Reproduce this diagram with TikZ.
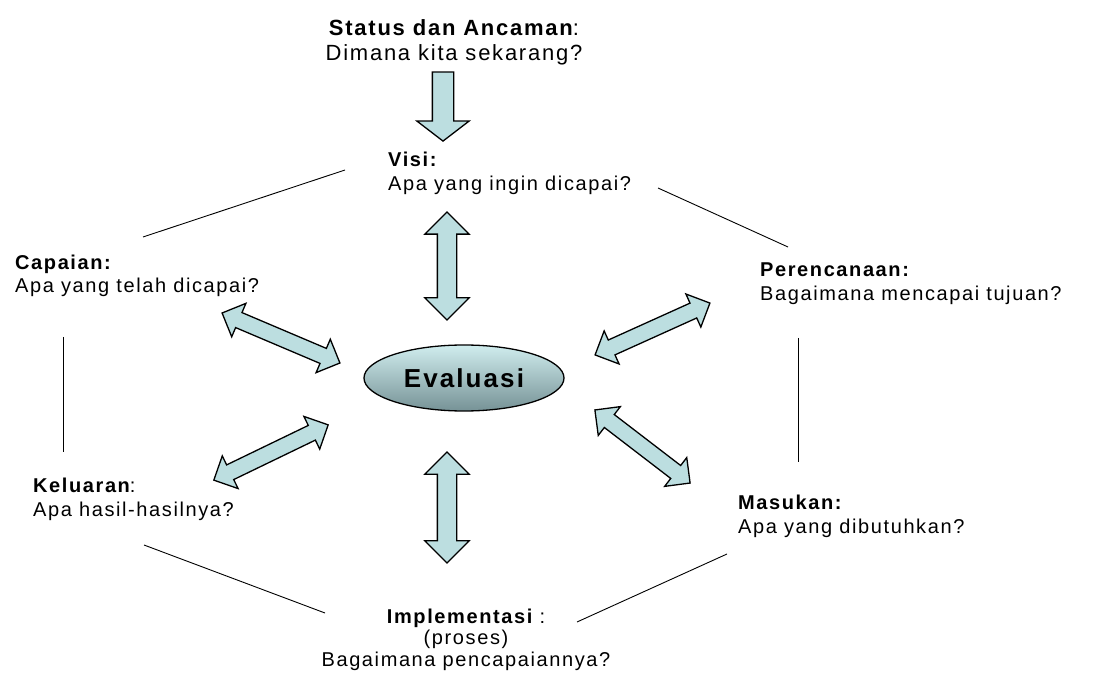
\documentclass[tikz,border=0pt]{standalone}
\usepackage{fontspec}
\setmainfont{Liberation Sans}
\newfontfamily\lblfont[LetterSpace=8]{Liberation Sans}
\usetikzlibrary{shapes.geometric,shapes.arrows}
\definecolor{arrowfill}{RGB}{188,222,224}
\definecolor{evaltop}{RGB}{208,237,238}
\definecolor{evalbot}{RGB}{118,146,150}
\tikzset{
  lbl/.style={anchor=north west,inner sep=0pt,align=left,font=\lblfont\fontsize{20}{24}\selectfont},
  edge/.style={line width=0.9pt},
  dblarrow/.style={double arrow,draw=black,fill=arrowfill,line width=1.3pt,inner sep=0pt,
    inner ysep=9pt,double arrow head extend=12.5pt,double arrow tip angle=90,minimum width=0pt},
  diagarrow/.style={dblarrow,inner ysep=7.5pt,double arrow head extend=10pt}
}
\begin{document}
\begin{tikzpicture}[x=1pt,y=-1pt]
  \useasboundingbox[fill=white] (0,0) rectangle (1093,684);
  % texts
  \node[lbl,anchor=north,align=center,font=\lblfont\fontsize{22}{25}\selectfont] (status) at (454,19)
    {{\bfseries Status dan Ancaman}:\\Dimana kita sekarang?};
  \node[lbl] (visi) at (388,151.5) {{\bfseries Visi:}\\Apa yang ingin dicapai?};
  \node[lbl,font=\lblfont\fontsize{20}{23}\selectfont] (capaian) at (15,254.5) {{\bfseries Capaian:}\\Apa yang telah dicapai?};
  \node[lbl] (rencana) at (760,262.5) {{\bfseries Perencanaan:}\\Bagaimana mencapai tujuan?};
  \node[lbl] (keluaran) at (33,477.5) {{\bfseries Keluaran}:\\Apa hasil-hasilnya?};
  \node[lbl] (masukan) at (738,494.5) {{\bfseries Masukan:}\\Apa yang dibutuhkan?};
  \node[lbl,anchor=north,align=center,font=\lblfont\fontsize{20}{21.5}\selectfont] (impl) at (466,608.5)
    {{\bfseries Implementasi} :\\(proses)\\Bagaimana pencapaiannya?};
  \node[ellipse,draw=black,line width=1.3pt,top color=evaltop,bottom color=evalbot,
    minimum width=200,minimum height=66,inner sep=0pt,
    font=\lblfont\bfseries\fontsize{26}{30}\selectfont] (eval) at (464,378) {Evaluasi};
  % fat arrows
  \node[single arrow,draw=black,fill=arrowfill,line width=1.3pt,inner sep=0pt,inner ysep=10pt,
    single arrow head extend=15.5pt,single arrow tip angle=105,minimum height=69,rotate=-90] (turun) at (443,102.5) {};
  \node[dblarrow,minimum height=108,rotate=90] (atas) at (447,266) {};
  \node[dblarrow,minimum height=111,rotate=90] (bawah) at (447,507.5) {};
  \node[diagarrow,minimum height=128,rotate=-23] (kiriatas) at (281,338) {};
  \node[diagarrow,minimum height=126,rotate=24.3] (kananatas) at (652.5,329) {};
  \node[diagarrow,minimum height=127,rotate=25.8] (kiribawah) at (271,452.5) {};
  \node[diagarrow,minimum height=120,rotate=-37.5] (kananbawah) at (642.5,446.5) {};
  % hexagon edges
  \coordinate (c1) at (143,237);  \coordinate (v1) at (345,170);
  \coordinate (v2) at (658,188);  \coordinate (r1) at (788,247);
  \coordinate (c2) at (63,337);   \coordinate (k1) at (63,452);
  \coordinate (r2) at (798,338);  \coordinate (m1) at (798,462);
  \coordinate (k2) at (144,545);  \coordinate (i1) at (325,613);
  \coordinate (m2) at (727,554);  \coordinate (i2) at (577,622);
  \draw[edge] (c1) -- (v1);
  \draw[edge] (v2) -- (r1);
  \draw[edge] (c2) -- (k1);
  \draw[edge] (r2) -- (m1);
  \draw[edge] (k2) -- (i1);
  \draw[edge] (m2) -- (i2);
\end{tikzpicture}
\end{document}
